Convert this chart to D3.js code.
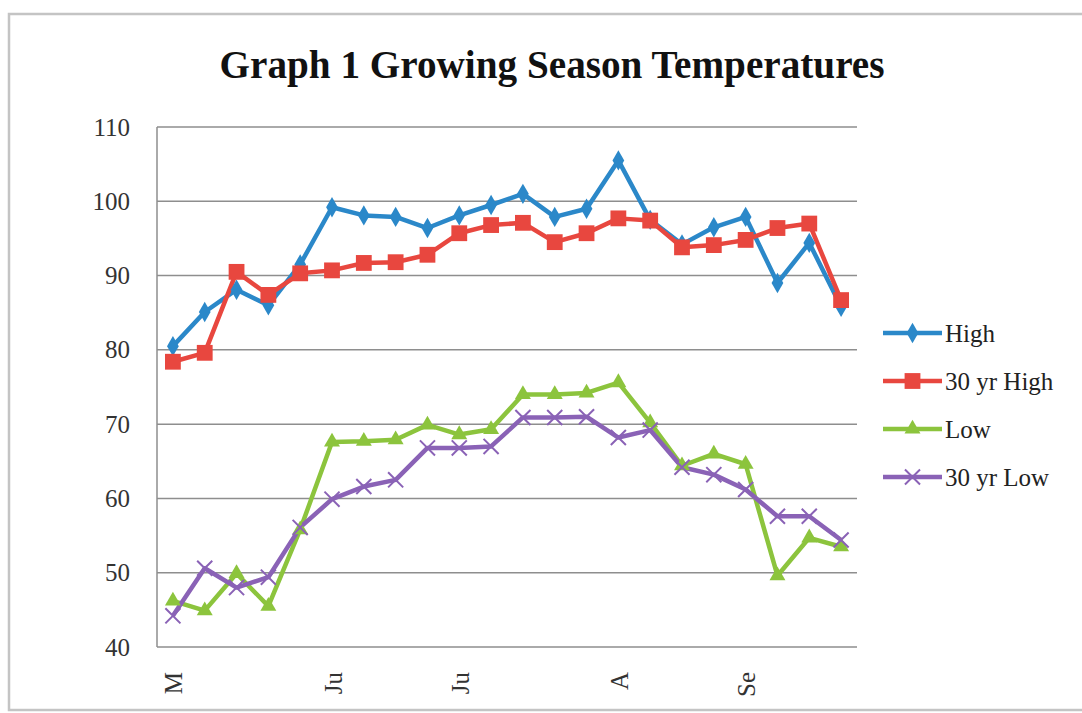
<!DOCTYPE html>
<html>
<head>
<meta charset="utf-8">
<script src="https://cdn.jsdelivr.net/npm/d3@7"></script>
<style>
  html, body { margin: 0; padding: 0; background: #fff; }
  svg { display: block; font-family: "Liberation Serif", "Times New Roman", serif; }
</style>
</head>
<body>
<svg id="chart" width="1082" height="713"></svg>
<script>
// week labels along the x axis (only a few are shown in the original)
const categories = ['M', '', '', '', '', 'Ju', '', '', '', 'Ju', '', '', '', '', 'A', '', '', '', 'Se', '', '', '']
const yTicks = [40, 50, 60, 70, 80, 90, 100, 110]

const high = [80.5, 85.1, 88.1, 86.0, 91.5, 99.2, 98.1, 97.9, 96.4, 98.1, 99.5, 101.0, 97.9, 99.0, 105.5, 97.5, 94.2, 96.5, 97.9, 89.0, 94.4, 85.8]
const high30 = [78.4, 79.6, 90.5, 87.4, 90.3, 90.7, 91.7, 91.8, 92.8, 95.7, 96.8, 97.1, 94.5, 95.7, 97.7, 97.4, 93.8, 94.1, 94.8, 96.4, 97.0, 86.7]
const low = [46.2, 44.9, 49.9, 45.5, 55.8, 67.6, 67.7, 67.9, 69.9, 68.6, 69.3, 74.0, 74.0, 74.2, 75.6, 70.2, 64.4, 66.0, 64.6, 49.6, 54.7, 53.5]
const low30 = [44.2, 50.6, 48.0, 49.4, 56.1, 59.9, 61.6, 62.5, 66.8, 66.8, 67.0, 70.9, 70.9, 71.0, 68.2, 69.2, 64.2, 63.2, 61.2, 57.6, 57.6, 54.4]

const seriesNames = ['High', '30 yr High', 'Low', '30 yr Low']
const seriesColors = ['#2b88c9', '#e8473f', '#8cc43d', '#8a62b6']

const series = [
  {name: seriesNames[0], values: high, color: seriesColors[0], symbol: d3.symbolDiamond, size: 120, stroke: false},
  {name: seriesNames[1], values: high30, color: seriesColors[1], symbol: d3.symbolSquare, size: 250, stroke: false},
  {name: seriesNames[2], values: low, color: seriesColors[2], symbol: d3.symbolTriangle, size: 110, stroke: false},
  {name: seriesNames[3], values: low30, color: seriesColors[3], symbol: d3.symbolTimes || d3.symbolCross, size: 150, stroke: true}
]

const svg = d3.select('#chart')

// outer chart border
svg.append('rect')
  .attr('x', 9).attr('y', 14)
  .attr('width', 1090).attr('height', 696)
  .attr('fill', '#fff')
  .attr('stroke', '#c4c4c4')
  .attr('stroke-width', 2.5)

const plot = {left: 157, right: 857, top: 127, bottom: 647}

const x = d3.scalePoint()
  .domain(d3.range(categories.length))
  .range([plot.left, plot.right])
  .padding(0.5)

const y = d3.scaleLinear()
  .domain([40, 110])
  .range([plot.bottom, plot.top])

// gridlines
svg.append('g')
  .selectAll('line')
  .data(yTicks)
  .join('line')
  .attr('x1', plot.left).attr('x2', plot.right)
  .attr('y1', d => y(d)).attr('y2', d => y(d))
  .attr('stroke', '#8e8e8e')
  .attr('stroke-width', 1.5)

// left axis line
svg.append('line')
  .attr('x1', plot.left).attr('x2', plot.left)
  .attr('y1', plot.top).attr('y2', plot.bottom)
  .attr('stroke', '#8e8e8e')
  .attr('stroke-width', 1.5)

// y axis labels
const yAxis = svg.append('g')
  .attr('transform', `translate(${plot.left},0)`)
  .call(d3.axisLeft(y).tickValues(yTicks).tickSize(0).tickPadding(27))
yAxis.select('.domain').remove()
yAxis.selectAll('text')
  .attr('font-size', 25)
  .attr('font-family', '"Liberation Serif", "Times New Roman", serif')
  .attr('fill', '#333')

// x axis labels, rotated
svg.append('g')
  .selectAll('text')
  .data(categories.map((c, i) => ({c, i})).filter(d => d.c))
  .join('text')
  .attr('transform', d => `translate(${x(d.i)},${plot.bottom + 25}) rotate(-90)`)
  .attr('text-anchor', 'end')
  .attr('dy', '0.38em')
  .attr('font-size', 25)
  .attr('fill', '#333')
  .text(d => d.c)

const line = d3.line()
  .x((d, i) => x(i))
  .y(d => y(d))

const lines = svg.append('g')
series.forEach(s => {
  lines.append('path')
    .datum(s.values)
    .attr('fill', 'none')
    .attr('stroke', s.color)
    .attr('stroke-width', 4.5)
    .attr('stroke-linejoin', 'round')
    .attr('d', line)
})

// markers on top of all lines
series.forEach(s => {
  const sym = d3.symbol().type(s.symbol).size(s.size)
  lines.append('g')
    .selectAll('path')
    .data(s.values)
    .join('path')
    .attr('transform', (d, i) => `translate(${x(i)},${y(d)})`)
    .attr('d', sym)
    .attr('fill', s.stroke ? 'none' : s.color)
    .attr('stroke', s.color)
    .attr('stroke-width', s.stroke ? 2 : 0)
})

// legend
const legend = svg.append('g')
  .selectAll('g')
  .data(series)
  .join('g')
  .attr('transform', (d, i) => `translate(883,${333 + i * 48})`)

legend.append('line')
  .attr('x1', 0).attr('x2', 59)
  .attr('stroke', d => d.color)
  .attr('stroke-width', 4.5)

legend.append('path')
  .attr('transform', 'translate(29.5,0)')
  .attr('d', d => d3.symbol().type(d.symbol).size(d.size)())
  .attr('fill', d => d.stroke ? 'none' : d.color)
  .attr('stroke', d => d.color)
  .attr('stroke-width', d => d.stroke ? 2 : 0)

legend.append('text')
  .attr('x', 62)
  .attr('dy', '0.35em')
  .attr('font-size', 25)
  .attr('fill', '#222')
  .text(d => d.name)

// title, slightly condensed like the original
svg.append('text')
  .attr('x', 552)
  .attr('y', 78)
  .attr('text-anchor', 'middle')
  .attr('font-size', 40)
  .attr('font-weight', 'bold')
  .attr('fill', '#111')
  .attr('textLength', 665)
  .attr('lengthAdjust', 'spacingAndGlyphs')
  .text('Graph 1 Growing Season Temperatures')
</script>
</body>
</html>
